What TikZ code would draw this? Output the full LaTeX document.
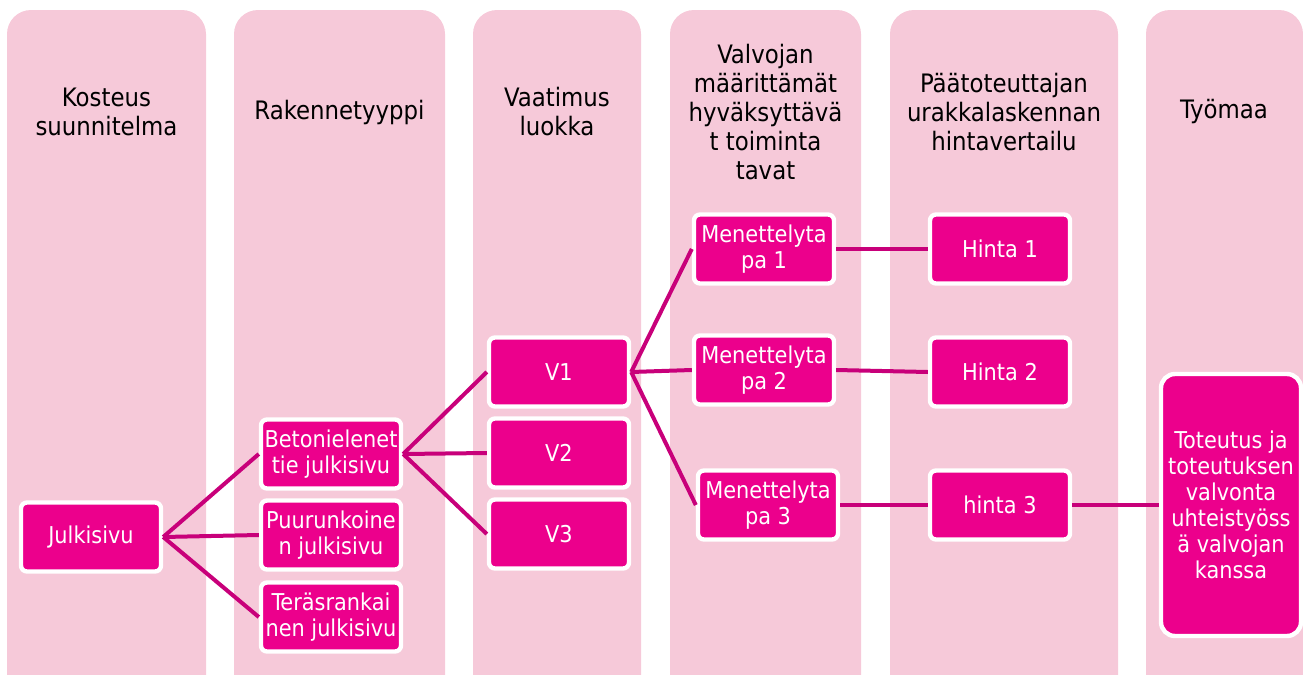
\documentclass[tikz,border=0pt]{standalone}
\usepackage{fontspec}
\setmainfont{DejaVu Sans Condensed}
\definecolor{lightpink}{HTML}{F6C9D9}
\definecolor{hotpink}{HTML}{EC008C}
\definecolor{linkpink}{HTML}{C8007A}

\begin{document}
\begin{tikzpicture}[x=0.5pt,y=-0.5pt,
  lane/.style={fill=lightpink, rounded corners=12pt},
  head/.style={align=center, font=\fontsize{12.7}{14.5}\selectfont},
  box/.style={rectangle, fill=hotpink, draw=white, line width=2.2pt, rounded corners=3pt, text=white, align=center, minimum width=70pt, minimum height=34.5pt, inner sep=1pt, font=\fontsize{11.6}{13}\selectfont},
  link/.style={draw=linkpink, line width=2pt}]
  \useasboundingbox (0,0) rectangle (1303,675);
  % lanes
  \fill[lane] (7,10) rectangle (206,700);
  \fill[lane] (234,10) rectangle (445,700);
  \fill[lane] (473,10) rectangle (641,700);
  \fill[lane] (670,10) rectangle (861,700);
  \fill[lane] (890,10) rectangle (1118,700);
  \fill[lane] (1146,10) rectangle (1303,700);
  % headings
  \node[head] (h1) at (106.5,112) {Kosteus\\suunnitelma};
  \node[head] (h2) at (339.5,112) {Rakennetyyppi};
  \node[head] (h3) at (557,112) {Vaatimus\\luokka};
  \node[head] (h4) at (765.5,112) {Valvojan\\määrittämät\\hyväksyttävä\\t toiminta\\tavat};
  \node[head] (h5) at (1004,112) {Päätoteuttajan\\urakkalaskennan\\hintavertailu};
  \node[head] (h6) at (1224,112) {Työmaa};
  % boxes
  \node[box] (jul) at (91,537) {Julkisivu};
  \node[box] (bet) at (331,454) {Betonielenet\\tie julkisivu};
  \node[box] (puu) at (331,535) {Puurunkoine\\n julkisivu};
  \node[box] (ter) at (331,617) {Teräsrankai\\nen julkisivu};
  \node[box] (v1) at (559,372) {V1};
  \node[box] (v2) at (559,453) {V2};
  \node[box] (v3) at (559,534) {V3};
  \node[box] (men1) at (764,249) {Menettelyta\\pa 1};
  \node[box] (men2) at (764,370) {Menettelyta\\pa 2};
  \node[box] (men3) at (768,505) {Menettelyta\\pa 3};
  \node[box] (hin1) at (1000,249) {Hinta 1};
  \node[box] (hin2) at (1000,372) {Hinta 2};
  \node[box] (hin3) at (1000,505) {hinta 3};
  \node[box, minimum height=131pt, rounded corners=7pt] (tot) at (1231,505) {Toteutus ja\\toteutuksen\\valvonta\\uhteistyöss\\ä valvojan\\kanssa};
  % links
  \draw[link] (jul.east) -- (bet.west);
  \draw[link] (jul.east) -- (puu.west);
  \draw[link] (jul.east) -- (ter.west);
  \draw[link] (bet.east) -- (v1.west);
  \draw[link] (bet.east) -- (v2.west);
  \draw[link] (bet.east) -- (v3.west);
  \draw[link] (v1.east) -- (men1.west);
  \draw[link] (v1.east) -- (men2.west);
  \draw[link] (v1.east) -- (men3.west);
  \draw[link] (men1.east) -- (hin1.west);
  \draw[link] (men2.east) -- (hin2.west);
  \draw[link] (men3.east) -- (hin3.west);
  \draw[link] (hin3.east) -- (tot.west);
\end{tikzpicture}
\end{document}
